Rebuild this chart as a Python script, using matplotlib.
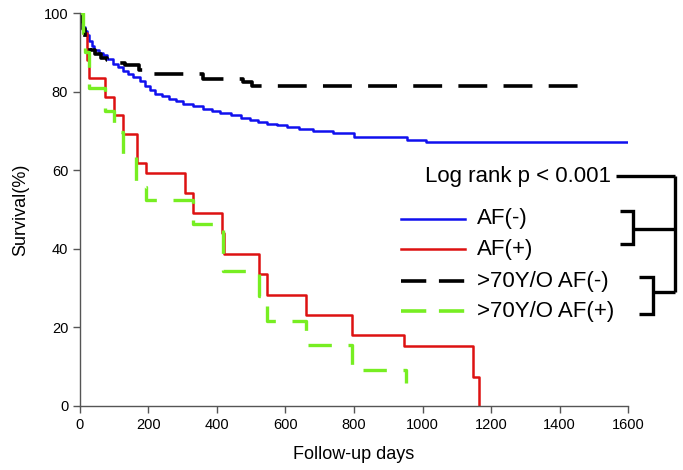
import matplotlib
matplotlib.use('Agg')
import matplotlib.pyplot as plt
from matplotlib.lines import Line2D

plt.rcParams['font.family'] = ['Liberation Sans', 'DejaVu Sans']

# Kaplan-Meier step data (days, survival %)
af_neg_days = [0, 3, 6, 10, 15, 20, 27, 35, 42, 55, 68, 80, 97, 110, 125, 140, 155, 175,
               190, 204, 220, 240, 260, 280, 302, 330, 360, 385, 410, 440, 470, 496, 520,
               545, 575, 603, 640, 680, 739, 800, 956, 1010, 1600]
af_neg_surv = [100, 99, 97.5, 96.5, 95.5, 94.5, 93, 91.5, 90.5, 89.8, 89.2, 88.3, 87, 86.2,
               85.3, 84.5, 83.6, 82.6, 81.5, 80.3, 79.5, 78.8, 78.1, 77.5, 76.9, 76.3, 75.7,
               75.1, 74.6, 74.0, 73.3, 72.7, 72.2, 71.8, 71.4, 71.0, 70.5, 70.0, 69.4, 68.4,
               67.8, 67.3, 67.3]

af_pos_days = [0, 10, 20, 27, 73, 100, 127, 167, 193, 308, 331, 414, 420, 524, 547, 659,
               795, 947, 1148, 1165]
af_pos_surv = [100, 95, 88, 83.4, 78.7, 74, 69.1, 61.9, 59.4, 54.3, 49.0, 43.9, 38.7, 33.5,
               28.2, 23.2, 18.0, 15.3, 7.5, 0]

old_neg_days = [0, 5, 10, 15, 20, 30, 45, 60, 80, 97, 130, 173, 184, 360, 476, 501, 1468]
old_neg_surv = [100, 98, 96, 94, 92, 90.5, 89.5, 88.5, 88, 87.2, 86.8, 85.5, 84.6, 83.2,
                82.5, 81.4, 81.4]

old_pos_days = [0, 8, 15, 27, 73, 100, 127, 165, 193, 331, 418, 524, 547, 659, 795, 951]
old_pos_surv = [100, 95, 90, 81, 75.1, 69.6, 64, 55.8, 52.4, 46.3, 34.4, 28, 21.7, 15.5,
                9.2, 5.8]

labels = ['AF(-)', 'AF(+)', '>70Y/O AF(-)', '>70Y/O AF(+)']
colors = ['#1010ee', '#dd1111', 'black', '#77ee22']

fig = plt.figure(figsize=(6.83, 4.70), dpi=100)
ax = fig.add_axes([0.1171, 0.1362, 0.8024, 0.8361])

ax.step(af_neg_days, af_neg_surv, where='post', color=colors[0], lw=1.8)
ax.step(af_pos_days, af_pos_surv, where='post', color=colors[1], lw=1.8)
ax.step(old_neg_days, old_neg_surv, where='post', color=colors[2], lw=2.6,
        dashes=(8, 4.5))
ax.step(old_pos_days, old_pos_surv, where='post', color=colors[3], lw=2.4,
        dashes=(7, 5))

ax.set_xlim(0, 1600)
ax.set_ylim(0, 100)
ax.set_xticks(range(0, 1601, 200))
ax.set_yticks(range(0, 101, 20))
for s in ['top', 'right']:
    ax.spines[s].set_visible(False)
for s in ['left', 'bottom']:
    ax.spines[s].set_color('#555555')
    ax.spines[s].set_linewidth(1.0)
ax.tick_params(direction='out', length=5, width=1, color='#555555', labelsize=10.5)
ax.set_xlabel('Follow-up days', fontsize=13, labelpad=10)
ax.set_ylabel('Survival(%)', fontsize=13, labelpad=10)

# legend drawn by hand (pixel positions -> figure fraction)
W, H = 683.0, 470.0
def fx(px): return px / W
def fy(py): return 1 - py / H

leg_y = [219, 249, 281, 311]
leg_style = [dict(lw=1.8), dict(lw=1.8), dict(lw=2.6, dashes=(7, 3.5)),
             dict(lw=2.6, dashes=(7, 3.5))]
for y, c, lab, st in zip(leg_y, colors, labels, leg_style):
    fig.add_artist(Line2D([fx(401), fx(465)], [fy(y), fy(y)], color=c,
                          transform=fig.transFigure, **st))
    fig.text(fx(477), fy(y), lab, fontsize=16, va='center', ha='left')

fig.text(fx(611), fy(177), 'Log rank p < 0.001', fontsize=16, va='center', ha='right')

# bracket lines
brackets = [
    ([616, 675], [176, 176]),
    ([675, 675], [176, 292]),
    ([620, 633, 633, 620], [211, 211, 244, 244]),
    ([633, 675], [229, 229]),
    ([639, 653, 653, 639], [277, 277, 314, 314]),
    ([653, 675], [292, 292]),
]
for xs, ys in brackets:
    fig.add_artist(Line2D([fx(v) for v in xs], [fy(v) for v in ys], color='black',
                          lw=2.4, transform=fig.transFigure,
                          solid_joinstyle='miter', solid_capstyle='butt'))

fig.savefig('out.png', dpi=100)
